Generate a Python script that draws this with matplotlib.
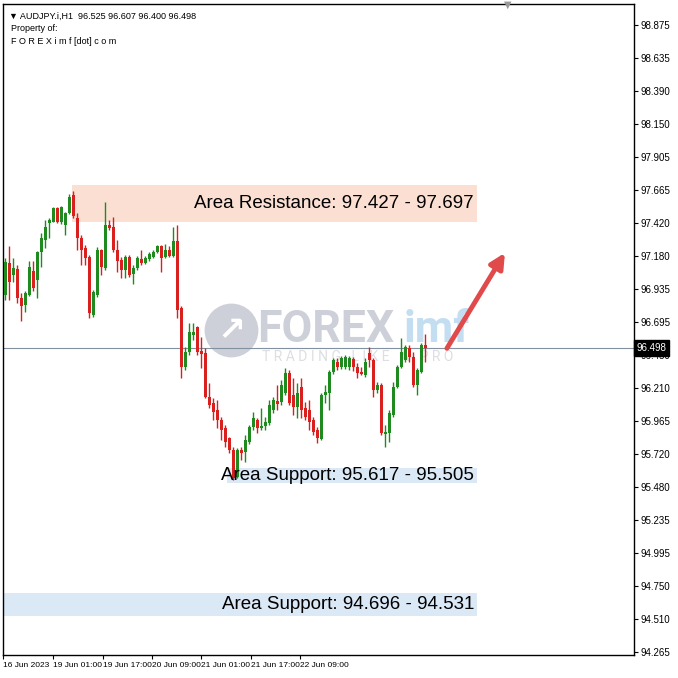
import numpy as np
import matplotlib
matplotlib.use('Agg')
import matplotlib.pyplot as plt
from matplotlib.patches import Rectangle

# AUDJPY H1 candles (open, high, low, close)
opens = [96.890, 97.125, 97.037, 97.081, 96.868, 96.816, 96.890, 97.066, 97.000, 97.206,
         97.294, 97.419, 97.427, 97.529, 97.427, 97.404, 97.493, 97.625, 97.456, 97.309,
         97.235, 97.169, 96.743, 96.890, 97.221, 97.088, 97.404, 97.390, 97.221, 97.147,
         97.074, 97.169, 97.044, 97.088, 97.154, 97.125, 97.154, 97.169, 97.206, 97.250,
         97.169, 97.221, 97.176, 97.287, 96.794, 96.360, 96.471, 96.596, 96.655, 96.478,
         96.463, 96.140, 96.096, 96.044, 95.971, 95.912, 95.838, 95.750, 95.552, 95.750,
         95.735, 95.809, 95.919, 95.971, 95.912, 95.926, 95.949, 96.044, 96.110, 96.103,
         96.169, 96.316, 96.154, 96.066, 96.213, 96.059, 96.044, 95.971, 95.897, 95.831,
         96.154, 96.169, 96.324, 96.397, 96.360, 96.360, 96.360, 96.419, 96.360, 96.324,
         96.301, 96.463, 96.412, 96.191, 96.228, 95.868, 95.875, 96.007, 96.213, 96.360,
         96.412, 96.500, 96.434, 96.228, 96.324, 96.525]
highs = [97.162, 97.250, 97.162, 97.110, 96.905, 96.919, 97.140, 97.140, 97.213, 97.346,
         97.441, 97.456, 97.537, 97.537, 97.544, 97.500, 97.632, 97.654, 97.493, 97.331,
         97.257, 97.184, 96.927, 97.243, 97.228, 97.574, 97.441, 97.463, 97.294, 97.169,
         97.184, 97.184, 97.110, 97.176, 97.221, 97.176, 97.206, 97.221, 97.257, 97.257,
         97.265, 97.250, 97.390, 97.404, 96.809, 96.507, 96.684, 96.684, 96.662, 96.581,
         96.500, 96.243, 96.132, 96.118, 95.993, 95.934, 95.846, 95.772, 95.765, 95.772,
         95.860, 95.934, 96.030, 95.985, 96.059, 95.993, 96.118, 96.140, 96.228, 96.265,
         96.353, 96.338, 96.279, 96.243, 96.279, 96.103, 96.118, 95.993, 95.919, 96.169,
         96.228, 96.338, 96.426, 96.426, 96.441, 96.449, 96.441, 96.434, 96.390, 96.360,
         96.426, 96.507, 96.426, 96.250, 96.243, 95.934, 96.044, 96.250, 96.375, 96.574,
         96.522, 96.522, 96.471, 96.353, 96.537, 96.607]
lows = [96.853, 96.853, 96.985, 96.831, 96.699, 96.765, 96.882, 96.919, 96.868, 97.096,
        97.235, 97.309, 97.427, 97.419, 97.412, 97.331, 97.485, 97.456, 97.221, 97.110,
        97.110, 96.721, 96.728, 96.875, 97.037, 97.074, 97.368, 97.206, 97.059, 97.015,
        97.015, 97.022, 96.971, 97.074, 97.110, 97.118, 97.140, 97.162, 97.199, 97.059,
        97.162, 97.169, 97.169, 96.721, 96.279, 96.338, 96.449, 96.559, 96.449, 96.353,
        96.132, 96.059, 95.971, 95.912, 95.824, 95.772, 95.728, 95.530, 95.544, 95.677,
        95.662, 95.794, 95.897, 95.875, 95.897, 95.897, 95.934, 96.022, 96.044, 96.081,
        96.154, 96.081, 96.007, 95.985, 95.985, 95.971, 95.897, 95.860, 95.801, 95.824,
        96.096, 96.044, 96.309, 96.338, 96.346, 96.346, 96.338, 96.331, 96.279, 96.301,
        96.287, 96.360, 96.140, 96.169, 95.860, 95.772, 95.809, 95.993, 96.206, 96.353,
        96.397, 96.397, 96.213, 96.154, 96.316, 96.400]
closes = [97.132, 96.985, 97.088, 96.868, 96.809, 96.905, 97.096, 96.941, 97.206, 97.309,
          97.390, 97.441, 97.529, 97.427, 97.537, 97.493, 97.610, 97.471, 97.309, 97.221,
          97.162, 96.757, 96.912, 97.221, 97.096, 97.404, 97.382, 97.221, 97.140, 97.074,
          97.169, 97.037, 97.088, 97.162, 97.125, 97.162, 97.191, 97.206, 97.250, 97.162,
          97.221, 97.176, 97.287, 96.780, 96.360, 96.471, 96.618, 96.618, 96.471, 96.456,
          96.140, 96.081, 96.030, 95.971, 95.897, 95.809, 95.750, 95.544, 95.750, 95.728,
          95.824, 95.919, 95.985, 95.912, 95.926, 95.956, 96.081, 96.118, 96.088, 96.228,
          96.316, 96.096, 96.066, 96.169, 96.044, 95.993, 95.956, 95.882, 95.838, 96.154,
          96.176, 96.324, 96.412, 96.360, 96.426, 96.434, 96.426, 96.360, 96.316, 96.309,
          96.397, 96.412, 96.191, 96.228, 95.875, 95.882, 96.022, 96.213, 96.360, 96.471,
          96.507, 96.434, 96.228, 96.338, 96.522, 96.498]

price_ticks = [98.875, 98.635, 98.390, 98.150, 97.905, 97.665, 97.420, 97.180, 96.935,
               96.695, 96.450, 96.210, 95.965, 95.720, 95.480, 95.235, 94.995, 94.750,
               94.510, 94.265]
date_labels = ['16 Jun 2023', '19 Jun 01:00', '19 Jun 17:00', '20 Jun 09:00',
               '21 Jun 01:00', '21 Jun 17:00', '22 Jun 09:00']
date_pos = [-0.5, 11.9, 24.4, 36.7, 48.9, 61.4, 73.7]

last_price = 96.498
resistance = (97.427, 97.697)
support1 = (95.505, 95.617)
support2 = (94.531, 94.696)

green = '#1f8a1f'
red = '#d9201f'
small_font = ['Liberation Sans Narrow', 'Liberation Sans']

fig = plt.figure(figsize=(6.78, 6.78), dpi=100)
ax = fig.add_axes([3/678, 23/678, 631/678, 651/678])
ax.set_xlim(-0.575, 157.175)
ax.set_ylim(94.243, 99.03)

# watermark
ax.scatter([56.5], [96.632], s=1500, color='#cdd0d8', zorder=0, linewidths=0)
ax.text(56.5, 96.632, '↗', color='white', fontsize=24, fontweight='bold',
        ha='center', va='center', zorder=0.5)
ax.text(63.0, 96.632, 'FOREX', color='#cdd0d8', fontsize=32, fontweight='bold',
        family='Roboto', ha='left', va='center', zorder=0.5)
ax.text(99.5, 96.632, 'imf', color='#c4def1', fontsize=32, fontweight='bold',
        family='Roboto', ha='left', va='center', zorder=0.5)
ax.text(64.2, 96.434, 'T R A D I N G   L I K E   A   P R O', color='#dcdee3',
        fontsize=10, family='Roboto', ha='left', va='center', zorder=0.5)

# zones
ax.add_patch(Rectangle((16.7, resistance[0]), 101.2, resistance[1] - resistance[0],
                       color='#fbdfd2', lw=0, zorder=1))
ax.add_patch(Rectangle((55.5, support1[0]), 62.4, support1[1] - support1[0],
                       color='#dbe9f7', lw=0, zorder=1))
ax.add_patch(Rectangle((-0.575, support2[0]), 118.5, support2[1] - support2[0],
                       color='#dbe9f7', lw=0, zorder=1))

ax.text(117.2, sum(resistance)/2, 'Area Resistance: 97.427 - 97.697', fontsize=13.5,
        family='Liberation Sans', ha='right', va='center', zorder=5)
ax.text(117.2, sum(support1)/2, 'Area Support: 95.617 - 95.505', fontsize=13.5,
        family='Liberation Sans', ha='right', va='center', zorder=5)
ax.text(117.2, sum(support2)/2, 'Area Support: 94.696 - 94.531', fontsize=13.5,
        family='Liberation Sans', ha='right', va='center', zorder=5)

# current price line
ax.axhline(last_price, color='#8290a0', lw=0.8, zorder=2)

# candles
o = np.array(opens)
h = np.array(highs)
l = np.array(lows)
c = np.array(closes)
x = np.arange(len(o))
cols = np.where(c >= o, green, red)
ax.vlines(x, l, h, colors=cols, lw=1, zorder=3)
body = np.maximum(np.abs(c - o), 0.008)
ax.bar(x, body, bottom=np.minimum(o, c), width=0.75, color=cols, lw=0, zorder=4)

# arrow
ax.annotate('', xy=(124.9, 97.20), xytext=(110.4, last_price),
            arrowprops=dict(arrowstyle='-|>', color='#e04a4a', lw=3.5,
                            mutation_scale=22, shrinkA=0, shrinkB=0), zorder=6)

# axes styling
ax.yaxis.tick_right()
ax.set_yticks(price_ticks)
ax.set_yticklabels(['%.3f' % p for p in price_ticks], family=small_font)
ax.tick_params(axis='y', direction='out', length=3, width=0.8, labelsize=7, pad=2)
ax.set_xticks(date_pos)
ax.set_xticklabels(date_labels, family=small_font)
for lab in ax.get_xticklabels():
    lab.set_ha('left')
ax.tick_params(axis='x', direction='out', length=3, width=0.8, labelsize=6, pad=2)
for s in ax.spines.values():
    s.set_linewidth(1)
    s.set_color('black')

ax.text(1.004, last_price, '96.498', transform=ax.get_yaxis_transform(),
        fontsize=7, family=small_font, color='white', ha='left', va='center', zorder=10,
        bbox=dict(boxstyle='square,pad=0.3', fc='black', ec='black'))

# header text
ax.text(0.009, 0.988, '▼ AUDJPY.i,H1  96.525 96.607 96.400 96.498', transform=ax.transAxes,
        fontsize=6.5, family=['Liberation Sans', 'DejaVu Sans'], ha='left', va='top')
ax.text(0.012, 0.969, 'Property of:', transform=ax.transAxes, fontsize=6.5,
        family='Liberation Sans', ha='left', va='top')
ax.text(0.012, 0.950, 'F O R E X i m f [dot] c o m', transform=ax.transAxes,
        fontsize=6.5, family='Liberation Sans', ha='left', va='top')

fig.text(508/678, 1 - 5/678, '▼', color='#999999', fontsize=7, ha='center', va='center')

fig.savefig('out.png', dpi=100)
